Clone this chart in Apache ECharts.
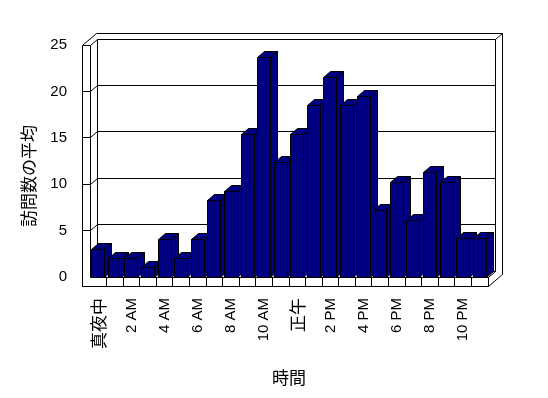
<!DOCTYPE html>
<html>
<head>
<meta charset="utf-8">
<script src="https://cdn.jsdelivr.net/npm/echarts@6/dist/echarts.min.js"></script>
<style>html,body{margin:0;padding:0;background:#fff;}#c{width:548px;height:398px;}</style>
</head>
<body>
<div id="c"></div>
<script>
const hours = ['真夜中','1 AM','2 AM','3 AM','4 AM','5 AM','6 AM','7 AM','8 AM','9 AM','10 AM','11 AM',
               '正午','1 PM','2 PM','3 PM','4 PM','5 PM','6 PM','7 PM','8 PM','9 PM','10 PM','11 PM'];
const visits = [3, 2, 2, 1, 4, 2, 4, 8.2, 9.2, 15.4, 23.6, 12.3,
                15.4, 18.5, 21.5, 18.5, 19.5, 7.2, 10.2, 6.1, 11.3, 10.2, 4.2, 4.2];
const yTicks = [0, 5, 10, 15, 20, 25];
const yMax = 25;

const DX = 7, DY = -6;      // depth offset
const WALL = 8, FLOOR = 9.5; // wall / floor slab thickness
const lineStyle = {stroke: '#000', lineWidth: 1, fill: '#fff'};
const s = v => Math.round(v - 0.5) + 0.5;
const sp = pts => pts.map(p => [s(p[0]), s(p[1])]);

function frameItem(params, api) {
  const n = hours.length;
  const bw = api.size([1, 0])[0];
  const p0 = api.coord([0, 0]);
  const pN = api.coord([n - 1, yMax]);
  const L = p0[0] - bw / 2, B = p0[1];
  const R = pN[0] + bw / 2, T = pN[1];
  const ch = [];
  const poly = (pts) => ch.push({type: 'polygon', shape: {points: sp(pts)}, style: Object.assign({}, lineStyle)});
  const line = (x1, y1, x2, y2) => ch.push({type: 'line', shape: {x1: s(x1), y1: s(y1), x2: s(x2), y2: s(y2)}, style: {stroke: '#000', lineWidth: 1}});
  // silhouette
  poly([[L - WALL, T], [L - WALL + 2 * DX, T + 2 * DY], [R + 2 * DX, T + 2 * DY],
        [R + 2 * DX, B + FLOOR + 2 * DY], [R, B + FLOOR], [L - WALL, B + FLOOR]]);
  // back wall inner face
  poly([[L + DX, T + DY], [R + DX, T + DY], [R + DX, B + DY], [L + DX, B + DY]]);
  // left wall inner face
  poly([[L, T], [L + DX, T + DY], [L + DX, B + DY], [L, B]]);
  // floor top
  poly([[L, B], [L + DX, B + DY], [R + DX, B + DY], [R, B]]);
  // front faces (left wall + floor)
  poly([[L - WALL, T], [L, T], [L, B], [R, B], [R, B + FLOOR], [L - WALL, B + FLOOR]]);
  // top right edge
  line(R + DX, T + DY, R + 2 * DX, T + 2 * DY);
  // gridlines
  yTicks.forEach(v => {
    const y = api.coord([0, v])[1];
    if (v > 0 && v < yMax) {
      line(L - WALL, y, L, y);
      line(L, y, L + DX, y + DY);
      line(L + DX, y + DY, R + DX, y + DY);
    }
  });
  // floor ticks
  for (let i = 1; i < n; i++) {
    const x = L + i * bw;
    line(x, B, x, B + FLOOR);
  }
  return {type: 'group', children: ch};
}

function barItem(params, api) {
  const idx = api.value(0), val = api.value(1);
  const top = api.coord([idx, val]);
  const base = api.coord([idx, 0]);
  const bw = api.size([1, 0])[0];
  const w = bw * 0.78;
  const x0 = top[0] - w / 2, x1 = x0 + w;
  const yt = top[1], yb = base[1];
  const st = {fill: '#000080', stroke: '#000', lineWidth: 1};
  return {type: 'group', children: [
    {type: 'polygon', shape: {points: sp([[x1, yt], [x1 + DX, yt + DY], [x1 + DX, yb + DY], [x1, yb]])}, style: st},
    {type: 'polygon', shape: {points: sp([[x0, yt], [x1, yt], [x1 + DX, yt + DY], [x0 + DX, yt + DY]])}, style: st},
    {type: 'polygon', shape: {points: sp([[x0, yt], [x1, yt], [x1, yb], [x0, yb]])}, style: st}
  ]};
}

const chart = echarts.init(document.getElementById('c'));
chart.setOption({
  animation: false,
  backgroundColor: '#fff',
  grid: {left: 90, right: 60, top: 45, bottom: 121},
  xAxis: {
    type: 'category', data: hours,
    axisLine: {show: false}, axisTick: {show: false}, splitLine: {show: false},
    axisLabel: {
      interval: 1, rotate: 90, margin: 21, color: '#000', fontSize: 15, fontFamily: 'Liberation Sans',
      formatter: v => /[A-Za-z0-9]/.test(v) ? v : '{c|' + v + '}',
      rich: {c: {fontSize: 17, fontFamily: 'Noto Sans CJK JP', color: '#000'}}
    },
    name: '時間', nameLocation: 'middle', nameGap: 92,
    nameTextStyle: {fontSize: 17, fontFamily: 'Noto Sans CJK JP', color: '#000'}
  },
  yAxis: {
    type: 'value', min: 0, max: yMax, interval: 5,
    axisLine: {show: false}, axisTick: {show: false}, splitLine: {show: false},
    axisLabel: {margin: 23, color: '#000', fontSize: 15, fontFamily: 'Liberation Sans', padding: [4, 0, 0, 0]},
    name: '訪問数の平均', nameLocation: 'middle', nameRotate: 90, nameGap: 53,
    nameTextStyle: {fontSize: 17, fontFamily: 'Noto Sans CJK JP', color: '#000', padding: [0, 30, 0, 0]}
  },
  series: [
    {type: 'custom', z: 1, data: [[0]], renderItem: frameItem, silent: true},
    {type: 'custom', z: 2, data: visits.map((v, i) => [i, v]), renderItem: barItem,
     encode: {x: 0, y: 1}}
  ]
});
</script>
</body>
</html>
